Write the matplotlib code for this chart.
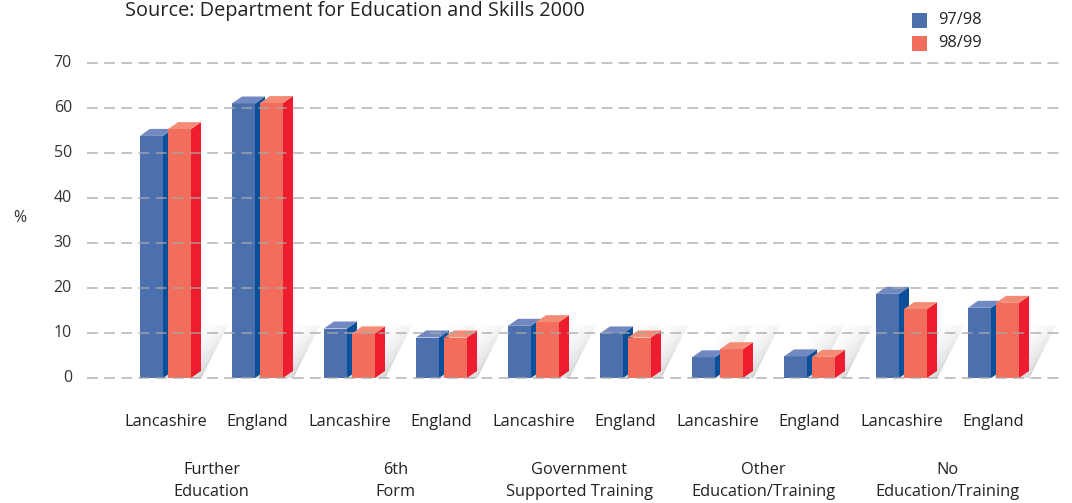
import numpy as np
import matplotlib.pyplot as plt
from matplotlib.patches import Polygon, Rectangle
from matplotlib.transforms import blended_transform_factory

plt.rcParams['font.family'] = ['Open Sans', 'DejaVu Sans']

#data
groups = ["Further\nEducation", "6th\nForm", "Government\nSupported Training",
          "Other\nEducation/Training", "No\nEducation/Training"]
areas = ["Lancashire", "England"]
years = ["97/98", "98/99"]
# values per group, Lancashire then England
y9798 = [53.8, 61.0, 11.0, 9.0, 11.6, 9.9, 4.6, 4.8, 18.7, 15.6]
y9899 = [55.3, 61.1, 9.9, 9.0, 12.4, 9.0, 6.4, 4.7, 15.3, 16.7]
yticks = [0, 10, 20, 30, 40, 50, 60, 70]

# colours: front, side, top
blue = ('#4c70ae', '#0a4f98', '#7189c0')
red = ('#f26d5b', '#ed1c2e', '#f48b75')

W, H = 1072, 503
fig = plt.figure(figsize=(W / 100, H / 100), dpi=100)
ax = fig.add_axes([87 / W, (H - 378) / H, (1060 - 87) / W, (378 - 63) / H])
xl = ((87 - 165.5) / 92, (1060 - 165.5) / 92)
ax.set_xlim(*xl)
ax.set_ylim(0, 70)
ax.axis('off')

# pixel -> data scale for the 3d offsets
px_x = (xl[1] - xl[0]) / (1060 - 87)
px_y = 70 / (378 - 63)
dx, dy = 10 * px_x, 7 * px_y
bw = 23 * px_x
gap = 2.5 * px_x

# slanted floor shadow behind a bar, darkest along its right edge
sh_w, sh_h, sh_s = 33, 53, 27   # px: width, height, slant
uu, vv = np.meshgrid(np.arange(sh_w + sh_s), np.arange(sh_h))
s = (uu - sh_s * vv / sh_h) / sh_w
a = np.where((s >= 0) & (s <= 1), np.clip(s, 0, 1) ** 1.5, 0) * (1 - 0.75 * vv / sh_h)
shade = np.zeros((sh_h, sh_w + sh_s, 4))
shade[..., :3] = 0.62
shade[..., 3] = 0.44 * a

def shadow(x):
    ax.imshow(shade, extent=(x, x + (sh_w + sh_s) * px_x, 0, sh_h * px_y), origin='lower',
              aspect='auto', zorder=1, interpolation='bilinear')

def bar3d(x, h, cols):
    front, side, top = cols
    ax.add_patch(Rectangle((x, 0), bw, h, facecolor=front, edgecolor='none', zorder=3))
    ax.add_patch(Polygon([(x + bw, 0), (x + bw + dx, dy), (x + bw + dx, h + dy), (x + bw, h)],
                         facecolor=side, edgecolor='none', zorder=3, clip_on=False))
    ax.add_patch(Polygon([(x, h), (x + bw, h), (x + bw + dx, h + dy), (x + dx, h + dy)],
                         facecolor=top, edgecolor='none', zorder=3, clip_on=False))

for k in range(len(y9798)):
    shadow(k - gap - bw)
    shadow(k + gap)
    bar3d(k - gap - bw, y9798[k], blue)
    bar3d(k + gap, y9899[k], red)
ax.set_xlim(*xl)
ax.set_ylim(0, 70)

# dashed gridlines drawn over the bars
for t in yticks:
    ax.plot(xl, [t, t], color='#a8a8a8', lw=1.3, ls=(0, (6, 3.5)), alpha=0.75,
            zorder=5, clip_on=False)
    fig.text(72 / W, (H - 378 + t / px_y) / H, str(t), ha='right', va='center',
             fontsize=11.5, color='#333333')
fig.text(20 / W, (H - 218) / H, '%', ha='center', va='center', fontsize=11.5, color='#333333')

# category labels
trans = blended_transform_factory(ax.transData, fig.transFigure)
for k in range(len(y9798)):
    ax.text(k, (H - 422) / H, areas[k % 2], transform=trans, ha='center', va='center',
            fontsize=11.8, color='#222222')
for g, name in enumerate(groups):
    ax.text(2 * g + 0.5, (H - 481) / H, name, transform=trans, ha='center', va='center',
            fontsize=11.8, color='#222222', linespacing=1.55)

fig.text(125 / W, (H - 11) / H, 'Source: Department for Education and Skills 2000',
         ha='left', va='center', fontsize=14.3, color='#222222')

# legend
for i, (lab, c) in enumerate(zip(years, (blue[0], red[0]))):
    yc = 20 + 23 * i
    fig.patches.append(Rectangle((912 / W, (H - yc - 8) / H), 15 / W, 15 / H,
                                 transform=fig.transFigure, facecolor=c, edgecolor='none'))
    fig.text(938 / W, (H - yc) / H, lab, ha='left', va='center', fontsize=11.8, color='#222222')

fig.savefig('out.png', dpi=100)
